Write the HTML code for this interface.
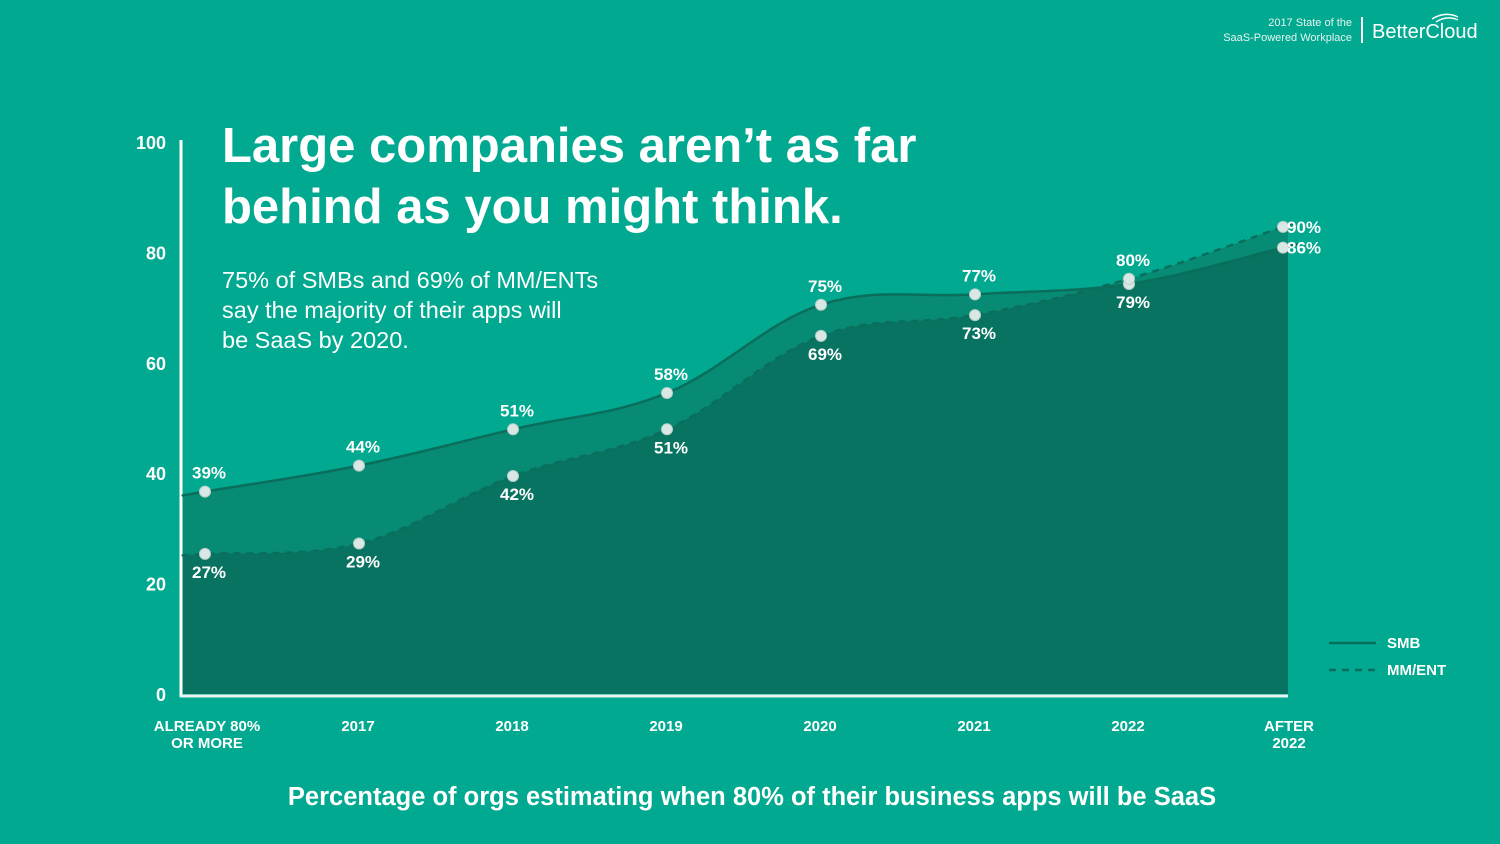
<!DOCTYPE html>
<html><head><meta charset="utf-8">
<style>
html,body{margin:0;padding:0;background:#00a98f;}
svg{display:block;font-family:"Liberation Sans",sans-serif;}
</style></head>
<body>
<svg width="1500" height="844" viewBox="0 0 1500 844" id="chart">
<rect width="1500" height="844" fill="#00a98f"/>
<g>
<text x="1352" y="26" font-size="11" fill="#e6f5f1" text-anchor="end">2017 State of the</text>
<text x="1352" y="41" font-size="11" fill="#e6f5f1" text-anchor="end">SaaS-Powered Workplace</text>
<rect x="1361" y="17" width="2" height="26" fill="#ffffff"/>
<text x="1372" y="38" font-size="20" fill="#ffffff">BetterCloud</text>
<path d="M1432 19 Q1445 11 1458 17 M1436 22 Q1447 15 1458 20" stroke="#fff" stroke-width="1.5" fill="none"/>
</g>
<g id="areas"></g>
<g id="axes"></g>
<g id="marks"></g>
<text x="222" y="162" font-size="49" font-weight="bold" fill="#ffffff">Large companies aren’t as far</text>
<text x="222" y="223" font-size="49" font-weight="bold" fill="#ffffff">behind as you might think.</text>
<g font-size="23.5" fill="#ffffff">
<text x="222" y="288">75% of SMBs and 69% of MM/ENTs</text>
<text x="222" y="318">say the majority of their apps will</text>
<text x="222" y="348">be SaaS by 2020.</text>
</g>
<g>
<line x1="1329" y1="643" x2="1376" y2="643" stroke="#0a6e5c" stroke-width="2.5"/>
<text x="1387" y="648" font-size="15" font-weight="bold" fill="#fff">SMB</text>
<line x1="1329" y1="670" x2="1376" y2="670" stroke="#0a6e5c" stroke-width="2.5" stroke-dasharray="7,6"/>
<text x="1387" y="675" font-size="15" font-weight="bold" fill="#fff">MM/ENT</text>
</g>
<text x="752" y="805" font-size="25.5" font-weight="bold" fill="#ffffff" text-anchor="middle">Percentage of orgs estimating when 80% of their business apps will be SaaS</text>
</svg>
<script>
const categories = [["ALREADY 80%","OR MORE"],["2017"],["2018"],["2019"],["2020"],["2021"],["2022"],["AFTER","2022"]];
const smbValues = [39,44,51,58,75,77,79,86];
const mmEntValues = [27,29,42,51,69,73,80,90];
const yTickLabels = [0,20,40,60,80,100];

const NS="http://www.w3.org/2000/svg";
const X0=205, X1=1283, AREA_L=182, AREA_R=1288, BASE=694;
function xScale(i){return X0+i*(X1-X0)/(categories.length-1);}
function yData(v){return BASE - v*5.19;}
function yTick(v){return BASE - v*5.52;}
function mk(tag,attrs,parent){const e=document.createElementNS(NS,tag);for(const k in attrs)e.setAttribute(k,attrs[k]);parent.appendChild(e);return e;}

function pts(vals){
  const p=vals.map((v,i)=>[xScale(i),yData(v)]);
  const s0=(p[1][1]-p[0][1])/(p[1][0]-p[0][0]);
  const n=p.length, s1=(p[n-1][1]-p[n-2][1])/(p[n-1][0]-p[n-2][0]);
  return [[AREA_L,p[0][1]-s0*(p[0][0]-AREA_L)]].concat(p,[[AREA_R,p[n-1][1]+s1*(AREA_R-p[n-1][0])]]);
}
function curve(p){
  let d="M"+p[0][0]+","+p[0][1];
  for(let i=0;i<p.length-1;i++){
    const a=p[Math.max(i-1,0)],b=p[i],c=p[i+1],e=p[Math.min(i+2,p.length-1)];
    const t=0.18;
    const c1=[b[0]+(c[0]-a[0])*t,b[1]+(c[1]-a[1])*t];
    const c2=[c[0]-(e[0]-b[0])*t,c[1]-(e[1]-b[1])*t];
    d+=" C"+c1[0].toFixed(1)+","+c1[1].toFixed(1)+" "+c2[0].toFixed(1)+","+c2[1].toFixed(1)+" "+c[0].toFixed(1)+","+c[1].toFixed(1);
  }
  return d;
}
const svg=document.getElementById('chart');
const areas=document.getElementById('areas'), axes=document.getElementById('axes'), marks=document.getElementById('marks');
const smbLine=curve(pts(smbValues)), mmLine=curve(pts(mmEntValues));
const close=" L"+AREA_R+","+BASE+" L"+AREA_L+","+BASE+" Z";
const defs=mk('defs',{},svg);
const cp=mk('clipPath',{id:'clipSmb'},defs);
mk('path',{d:smbLine+close},cp);

const a1=mk('path',{d:smbLine+close,fill:'#078b74'},areas);


const a2=mk('path',{d:mmLine+close,fill:'#078b74'},areas);


const a3=mk('path',{d:mmLine+close,fill:'#087360','clip-path':'url(#clipSmb)'},areas);



const l1=mk('path',{d:smbLine,fill:'none',stroke:'#0a6e5c','stroke-width':2.5},marks);


const l2=mk('path',{d:mmLine,fill:'none',stroke:'#0a6e5c','stroke-width':2.5,'stroke-dasharray':'7,6'},marks);



const ya=mk('line',{x1:181,y1:140,x2:181,y2:697,stroke:'#ffffff','stroke-width':3},axes);


const xa=mk('line',{x1:180,y1:696,x2:AREA_R,y2:696,stroke:'#e8f3f0','stroke-width':3},axes);


yTickLabels.forEach(v=>{
  const t=mk('text',{x:166,y:yTick(v)+7,'font-size':18,'font-weight':'bold',fill:'#fff','text-anchor':'end'},axes);
  t.textContent=v;
  
  
});
categories.forEach((c,i)=>{
  const x=xScale(i)+(i===0?2:(i===categories.length-1?6:-1));
  c.forEach((line,j)=>{
    const t=mk('text',{x:x,y:731+j*17,'font-size':15,'font-weight':'bold',fill:'#fff','text-anchor':'middle'},axes);
    t.textContent=line;
    
    
  });
});
function series(vals,other,name){
  vals.forEach((v,i)=>{
    const x=xScale(i), y=yData(v);
    const c=mk('circle',{cx:x,cy:y,r:5.5,fill:'#d9e8e4',stroke:'#b9cfc9','stroke-width':1},marks);
    
    
    const last=i===vals.length-1, above=v>=other[i];
    const t=mk('text',{'font-size':17,'font-weight':'bold',fill:'#fff'},marks);
    if(last){t.setAttribute('x',x+4);t.setAttribute('y',y+6);}
    else{t.setAttribute('x',x+4);t.setAttribute('text-anchor','middle');t.setAttribute('y',above?y-13:y+24);}
    t.textContent=v+'%';
    
    
  });
}
series(smbValues,mmEntValues,'smb');
series(mmEntValues,smbValues,'mm-ent');
</script>
</body></html>
